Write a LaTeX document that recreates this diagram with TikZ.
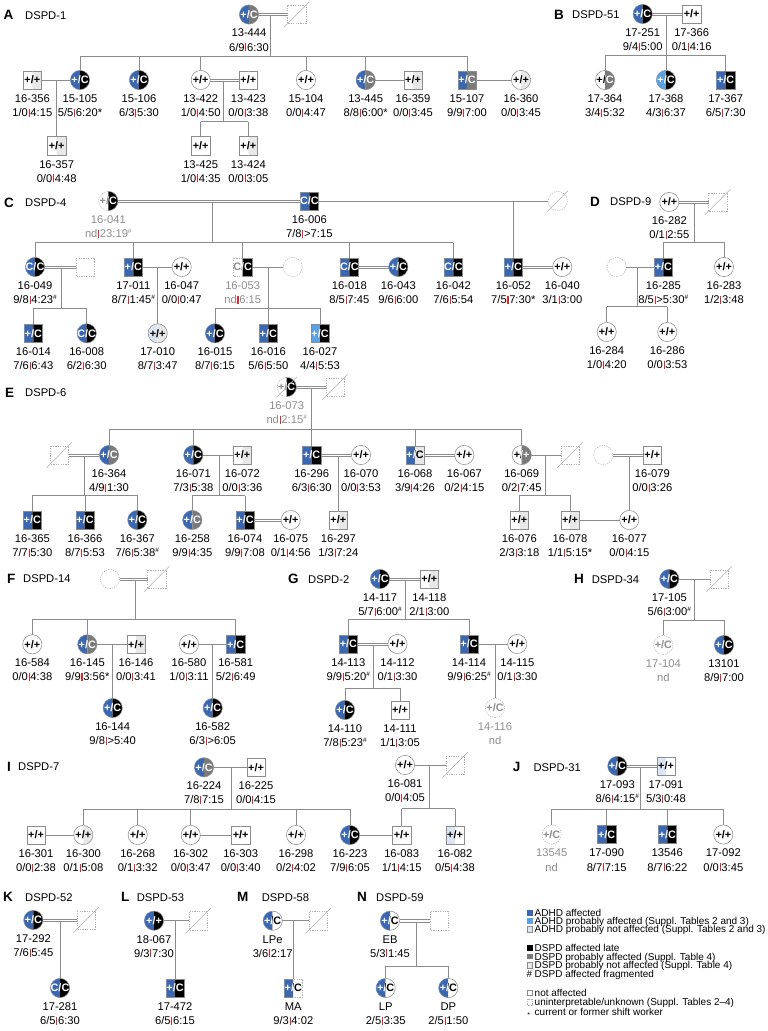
\documentclass[tikz,border=0pt]{standalone}
\usepackage{fontspec}
\setmainfont{Liberation Sans}
\definecolor{cB}{HTML}{3A67B1}
\definecolor{cL}{HTML}{5AA2E2}
\definecolor{cP}{HTML}{DCE5F4}
\definecolor{cK}{HTML}{000000}
\definecolor{cG}{HTML}{7A7A7A}
\definecolor{cE}{HTML}{E8E8E8}
\definecolor{cw}{HTML}{FFFFFF}
\definecolor{cu}{HTML}{FFFFFF}
\definecolor{cv}{HTML}{FFFFFF}
\definecolor{tB}{HTML}{FFFFFF}
\definecolor{tL}{HTML}{FFFFFF}
\definecolor{tP}{HTML}{000000}
\definecolor{tK}{HTML}{FFFFFF}
\definecolor{tG}{HTML}{FFFFFF}
\definecolor{tE}{HTML}{000000}
\definecolor{tw}{HTML}{000000}
\definecolor{tu}{HTML}{8E8E8E}
\definecolor{tv}{HTML}{000000}
\definecolor{linegray}{HTML}{8C8C8C}
\definecolor{dashgray}{HTML}{B0B0B0}
\definecolor{txtgray}{HTML}{8E8E8E}
\definecolor{barred}{HTML}{E3262C}
\tikzset{
 osolid/.style={draw=linegray, line width=0.55pt},
 odash/.style={draw=dashgray, line width=0.55pt, dash pattern=on 1.2pt off 1.2pt},
 oB/.style={osolid}, oL/.style={osolid}, oP/.style={osolid}, oK/.style={osolid},
 oG/.style={osolid}, oE/.style={osolid}, ow/.style={osolid},
 ou/.style={odash}, ov/.style={odash},
 cnode/.style={circle, minimum size=19.2pt, inner sep=0pt, outer sep=0pt},
 snode/.style={rectangle, minimum size=18.4pt, inner sep=0pt, outer sep=0pt},
 gtxt/.style={inner sep=0pt, font=\bfseries\fontsize{10.8}{12}\selectfont},
 lbl/.style={anchor=base, inner sep=0pt, font=\fontsize{11.2}{13}\selectfont},
 rel/.style={draw=linegray, line width=0.7pt},
 decl/.style={draw=dashgray, line width=0.55pt},
 plet/.style={anchor=base west, inner sep=0pt, font=\bfseries\fontsize{13.5}{15}\selectfont},
 pname/.style={anchor=base west, inner sep=0pt, font=\fontsize{11.2}{13}\selectfont},
 leg/.style={anchor=base west, inner sep=0pt, font=\fontsize{10}{11}\selectfont},
}
\newcommand\redbar{\kern0.7pt{\color{barred}\rule{1.1pt}{8pt}}\kern0.7pt}
\newcommand\frag{\raisebox{3.8pt}{\fontsize{6.5}{7}\selectfont\#}}
\newcommand\phalf[6]{%
  \begin{scope}
    \clip (#3,-13) rectangle (#4,13);
    \if#2c
      \path[fill=c#5] (0,0) circle[radius=9.6];
      \path[o#5] (0,0) circle[radius=9.6];
    \else
      \path[fill=c#5] (-9.2,-9.2) rectangle (9.2,9.2);
      \path[o#5] (-9.2,-9.2) rectangle (9.2,9.2);
    \fi
    \node[gtxt, text=t#5] (#1) at (0,0) {#6};
  \end{scope}}
\newcommand\person[7]{%
  \begin{scope}[shift={(#3,#4)}]
    \phalf{#1-gl}{#2}{-13}{0}{#5}{#7}
    \phalf{#1-gr}{#2}{0}{13}{#6}{#7}
  \end{scope}
  \node[#2node] (#1) at (#3,#4) {};}
\newcommand\plabel[4][]{%
  \node[lbl,#1] (#2a) at ([yshift=-22.4pt]#2.center) {#3};
  \node[lbl,#1] (#2b) at ([yshift=-36.6pt]#2.center) {#4};}
\newcommand\deceased[1]{\draw[decl] ([shift={(-3.5pt,-3.5pt)}]#1.south west) -- ([shift={(3.5pt,3.5pt)}]#1.north east);}
\newcommand\drops[2]{\foreach \k in {#2}{\draw[rel] (\k.north) -- (\k.north |- #1);}}
\newcommand\dline[2]{%
  \draw[rel, transform canvas={yshift=1.15pt}] (#1.east) -- (#2.west);
  \draw[rel, transform canvas={yshift=-1.15pt}] (#1.east) -- (#2.west);}
\begin{document}
\begin{tikzpicture}[x=1pt,y=-1pt]
\fill[white] (0,0) rectangle (768,1031);
\useasboundingbox (0,0) rectangle (768,1031);

% ================= A
\node[plet] (LA) at (3.5,19.7) {A};
\node[pname] (NA) at (25,19.2) {DSPD-1};
\person{n13444}{c}{249}{14.5}{B}{G}{+/C}
\person{pA}{s}{296.7}{14.5}{u}{u}{}
\deceased{pA}
\dline{n13444}{pA}
\coordinate (a0) at (270.7,15.6);
\coordinate (a0s) at (270.7,56);
\draw[rel] (a0) -- (a0s);
\plabel{n13444}{13-444}{6/9\redbar6:30}
\person{n16356}{s}{32.3}{80}{w}{E}{+/+}
\person{n15105}{c}{80}{80}{B}{K}{+/C}
\person{n15106}{c}{139}{80}{B}{K}{+/C}
\person{n13422}{c}{200.7}{80}{w}{w}{+/+}
\person{n13423}{s}{248.3}{80}{w}{w}{+/+}
\person{n15104}{c}{306}{80}{w}{w}{+/+}
\person{n13445}{c}{365.7}{80}{B}{G}{+/C}
\person{n16359}{s}{413}{80}{w}{E}{+/+}
\person{n15107}{s}{467}{80}{B}{G}{+/C}
\person{n16360}{c}{521}{80}{w}{E}{+/+}
\draw[rel] (n15105.north |- a0s) -- (n15107.north |- a0s);
\drops{a0s}{n15105,n15106,n13422,n15104,n13445,n15107}
\draw[rel] (n16356.east) -- (n15105.west);
\dline{n13422}{n13423}
\draw[rel] (n13445.east) -- (n16359.west);
\draw[rel] (n15107.east) -- (n16360.west);
\plabel{n16356}{16-356}{1/0\redbar4:15}
\plabel{n15105}{15-105}{5/5\redbar6:20*}
\plabel{n15106}{15-106}{6/3\redbar5:30}
\plabel{n13422}{13-422}{1/0\redbar4:50}
\plabel{n13423}{13-423}{0/0\redbar3:38}
\plabel{n15104}{15-104}{0/0\redbar4:47}
\plabel{n13445}{13-445}{8/8\redbar6:00*}
\plabel{n16359}{16-359}{0/0\redbar3:45}
\plabel{n15107}{15-107}{9/9\redbar7:00}
\plabel{n16360}{16-360}{0/0\redbar3:45}
\coordinate (a1) at (56.7,80);
\person{n16357}{s}{56.7}{145.7}{w}{E}{+/+}
\draw[rel] (a1) -- (n16357.north);
\plabel{n16357}{16-357}{0/0\redbar4:48}
\coordinate (a2) at (223.3,81.1);
\coordinate (a2s) at (223.3,121.7);
\person{n13425}{s}{200.7}{145.7}{w}{w}{+/+}
\person{n13424}{s}{248.3}{145.7}{w}{E}{+/+}
\draw[rel] (a2) -- (a2s);
\draw[rel] (n13425.north |- a2s) -- (n13424.north |- a2s);
\drops{a2s}{n13425,n13424}
\plabel{n13425}{13-425}{1/0\redbar4:35}
\plabel{n13424}{13-424}{0/0\redbar3:05}

% ================= B
\node[plet] (LB) at (554,19.2) {B};
\node[pname] (NB) at (572,18.7) {DSPD-51};
\person{n17251}{c}{642.7}{14}{B}{K}{+/C}
\person{n17366}{s}{691.7}{14}{w}{w}{+/+}
\dline{n17251}{n17366}
\coordinate (b0) at (666,15.1);
\coordinate (b0s) at (666,55.7);
\draw[rel] (b0) -- (b0s);
\plabel{n17251}{17-251}{9/4\redbar5:00}
\plabel{n17366}{17-366}{0/1\redbar4:16}
\person{n17364}{c}{605}{80}{w}{G}{+/C}
\person{n17368}{c}{666}{80}{L}{K}{+/C}
\person{n17367}{s}{725.7}{80}{B}{K}{+/C}
\draw[rel] (n17364.north |- b0s) -- (n17367.north |- b0s);
\drops{b0s}{n17364,n17368,n17367}
\plabel{n17364}{17-364}{3/4\redbar5:32}
\plabel{n17368}{17-368}{4/3\redbar6:37}
\plabel{n17367}{17-367}{6/5\redbar7:30}

% ================= C
\node[plet] (LC) at (4,207.4) {C};
\node[pname] (NC) at (25,206.7) {DSPD-4};
\person{n16041}{c}{108.3}{201}{u}{K}{+/C}
\person{n16006}{s}{309.3}{201}{B}{K}{C/C}
\person{pC}{c}{557.7}{201}{u}{u}{}
\deceased{pC}
\dline{n16041}{n16006}
\draw[rel] (n16006.east) -- (pC.west);
\plabel[text=txtgray]{n16041}{16-041}{nd\redbar23:19\frag}
\plabel{n16006}{16-006}{7/8\redbar>7:15}
\coordinate (c0) at (212.3,202.1);
\coordinate (c0s) at (212.3,242.5);
\draw[rel] (c0) -- (c0s);
\person{n16049}{c}{35}{267}{B}{K}{C/C}
\person{pC2}{s}{85}{267}{u}{u}{}
\person{n17011}{s}{133.3}{267}{B}{K}{+/C}
\person{n16047}{c}{181.7}{267}{w}{w}{+/+}
\person{n16053}{s}{242.7}{267}{u}{K}{C/C}
\person{pC3}{c}{292.7}{267}{u}{u}{}
\person{n16018}{s}{349.3}{267}{B}{K}{C/C}
\person{n16043}{c}{398.3}{267}{B}{K}{+/C}
\person{n16042}{s}{453.3}{267}{B}{K}{C/C}
\person{n16052}{s}{513.3}{267}{B}{K}{+/C}
\person{n16040}{c}{562.3}{267}{w}{w}{+/+}
\draw[rel] (n16049.north |- c0s) -- (n16042.north |- c0s);
\drops{c0s}{n16049,n17011,n16053,n16018,n16042}
\coordinate (c1) at (513.3,201);
\draw[rel] (c1) -- (n16052.north);
\dline{n16049}{pC2}
\draw[rel] (n17011.east) -- (n16047.west);
\draw[rel] (n16053.east) -- (pC3.west);
\dline{n16018}{n16043}
\dline{n16052}{n16040}
\plabel{n16049}{16-049}{9/8\redbar4:23\frag}
\plabel{n17011}{17-011}{8/7\redbar1:45\frag}
\plabel{n16047}{16-047}{0/0\redbar0:47}
\plabel[text=txtgray]{n16053}{16-053}{nd\redbar6:15}
\plabel{n16018}{16-018}{8/5\redbar7:45}
\plabel{n16043}{16-043}{9/6\redbar6:00}
\plabel{n16042}{16-042}{7/6\redbar5:54}
\plabel{n16052}{16-052}{7/5\redbar7:30*}
\plabel{n16040}{16-040}{3/1\redbar3:00}
\coordinate (c2) at (61,268.1);
\coordinate (c2s) at (61,308.3);
\draw[rel] (c2) -- (c2s);
\person{n16014}{s}{33.3}{333.3}{B}{K}{+/C}
\person{n16008}{c}{86.7}{333.3}{B}{K}{C/C}
\draw[rel] (n16014.north |- c2s) -- (n16008.north |- c2s);
\drops{c2s}{n16014,n16008}
\plabel{n16014}{16-014}{7/6\redbar6:43}
\plabel{n16008}{16-008}{6/2\redbar6:30}
\coordinate (c3) at (157.7,267);
\person{n17010}{c}{157.7}{333.3}{P}{E}{+/+}
\draw[rel] (c3) -- (n17010.north);
\plabel{n17010}{17-010}{8/7\redbar3:47}
\coordinate (c4) at (268.3,267);
\coordinate (c4s) at (268.3,308.3);
\draw[rel] (c4) -- (c4s);
\person{n16015}{c}{215}{333.3}{B}{K}{+/C}
\person{n16016}{s}{268.3}{333.3}{B}{K}{+/C}
\person{n16027}{s}{320}{333.3}{L}{K}{+/C}
\draw[rel] (n16015.north |- c4s) -- (n16027.north |- c4s);
\drops{c4s}{n16015,n16016,n16027}
\plabel{n16015}{16-015}{8/7\redbar6:15}
\plabel{n16016}{16-016}{5/6\redbar5:50}
\plabel{n16027}{16-027}{4/4\redbar5:53}

% ================= D
\node[plet] (LD) at (590,206.4) {D};
\node[pname] (ND) at (610,205.7) {DSPD-9};
\person{n16282}{c}{669.3}{202}{w}{w}{+/+}
\person{pD}{s}{717.7}{202}{u}{u}{}
\deceased{pD}
\dline{n16282}{pD}
\plabel{n16282}{16-282}{0/1\redbar2:55}
\coordinate (d0) at (694,203.1);
\coordinate (d0s) at (694,242.3);
\draw[rel] (d0) -- (d0s);
\person{n16285}{s}{663.3}{267}{B}{K}{+/C}
\person{n16283}{c}{724}{267}{w}{w}{+/+}
\person{pD2}{c}{616.7}{267}{u}{u}{}
\draw[rel] (n16285.north |- d0s) -- (n16283.north |- d0s);
\drops{d0s}{n16285,n16283}
\draw[rel] (pD2.east) -- (n16285.west);
\plabel{n16285}{16-285}{8/5\redbar>5:30\frag}
\plabel{n16283}{16-283}{1/2\redbar3:48}
\coordinate (d1) at (637.3,267);
\coordinate (d1s) at (637.3,306.7);
\draw[rel] (d1) -- (d1s);
\person{n16284}{c}{606.7}{332}{w}{w}{+/+}
\person{n16286}{c}{667.3}{332}{w}{w}{+/+}
\draw[rel] (n16284.north |- d1s) -- (n16286.north |- d1s);
\drops{d1s}{n16284,n16286}
\plabel{n16284}{16-284}{1/0\redbar4:20}
\plabel{n16286}{16-286}{0/0\redbar3:53}

% ================= E
\node[plet] (LE) at (5,397.4) {E};
\node[pname] (NE) at (25,396.7) {DSPD-6};
\person{n16073}{c}{286.7}{387}{u}{K}{+/C}
\deceased{n16073}
\person{pE}{s}{335}{387}{u}{u}{}
\deceased{pE}
\dline{n16073}{pE}
\plabel[text=txtgray]{n16073}{16-073}{nd\redbar2:15\frag}
\coordinate (e0) at (311.7,388.1);
\coordinate (e0s) at (311.7,429);
\draw[rel] (e0) -- (e0s);
\person{n16364}{c}{109}{455}{B}{G}{+/C}
\person{pE2}{s}{59.3}{455}{u}{u}{}
\deceased{pE2}
\person{n16071}{c}{193.3}{455}{B}{K}{+/C}
\person{n16072}{s}{242.3}{455}{w}{E}{+/+}
\person{n16296}{s}{311.7}{455}{B}{K}{+/C}
\person{n16070}{c}{361}{455}{w}{w}{+/+}
\person{n16068}{s}{415}{455}{B}{E}{+/C}
\person{n16067}{c}{464.3}{455}{w}{w}{+/+}
\person{n16069}{c}{521.7}{455}{w}{G}{+/+}
\person{pE3}{s}{570}{455}{u}{u}{}
\deceased{pE3}
\person{pE4}{c}{603.3}{455}{u}{u}{}
\person{n16079}{s}{652.3}{455}{w}{w}{+/+}
\draw[rel] (n16364.north |- e0s) -- (n16069.north |- e0s);
\drops{e0s}{n16364,n16071,n16296,n16068,n16069}
\dline{pE2}{n16364}
\draw[rel] (n16071.east) -- (n16072.west);
\dline{n16296}{n16070}
\dline{n16068}{n16067}
\draw[rel] (n16069.east) -- (pE3.west);
\dline{pE4}{n16079}
\plabel{n16364}{16-364}{4/9\redbar1:30}
\plabel{n16071}{16-071}{7/3\redbar5:38}
\plabel{n16072}{16-072}{0/0\redbar3:36}
\plabel{n16296}{16-296}{6/3\redbar6:30}
\plabel{n16070}{16-070}{0/0\redbar3:53}
\plabel{n16068}{16-068}{3/9\redbar4:26}
\plabel{n16067}{16-067}{0/2\redbar4:15}
\plabel{n16069}{16-069}{0/2\redbar7:45}
\plabel{n16079}{16-079}{0/0\redbar3:26}
\coordinate (e1) at (84.3,456.1);
\coordinate (e1s) at (84.3,495.3);
\draw[rel] (e1) -- (e1s);
\person{n16365}{s}{32.3}{520}{B}{K}{+/C}
\person{n16366}{s}{85}{520}{B}{K}{+/C}
\person{n16367}{c}{137.3}{520}{B}{K}{+/C}
\draw[rel] (n16365.north |- e1s) -- (n16367.north |- e1s);
\drops{e1s}{n16365,n16366,n16367}
\plabel{n16365}{16-365}{7/7\redbar5:30}
\plabel{n16366}{16-366}{8/7\redbar5:53}
\plabel{n16367}{16-367}{7/6\redbar5:38\frag}
\coordinate (e2) at (219.3,455);
\coordinate (e2s) at (219.3,495.5);
\draw[rel] (e2) -- (e2s);
\person{n16258}{c}{192.3}{520}{B}{G}{+/C}
\person{n16074}{s}{245}{520}{B}{K}{+/C}
\person{n16075}{c}{290.7}{520}{w}{w}{+/+}
\draw[rel] (n16258.north |- e2s) -- (n16074.north |- e2s);
\drops{e2s}{n16258,n16074}
\dline{n16074}{n16075}
\plabel{n16258}{16-258}{9/9\redbar4:35}
\plabel{n16074}{16-074}{9/9\redbar7:08}
\plabel{n16075}{16-075}{0/1\redbar4:56}
\coordinate (e3) at (338.3,456.1);
\person{n16297}{s}{338.3}{520}{w}{E}{+/+}
\draw[rel] (e3) -- (n16297.north);
\plabel{n16297}{16-297}{1/3\redbar7:24}
\coordinate (e4) at (545.7,455);
\coordinate (e4s) at (545.7,495.3);
\draw[rel] (e4) -- (e4s);
\person{n16076}{s}{519.3}{520}{w}{E}{+/+}
\person{n16078}{s}{570}{520}{w}{E}{+/+}
\draw[rel] (n16076.north |- e4s) -- (n16078.north |- e4s);
\drops{e4s}{n16076,n16078}
\coordinate (e5) at (629.3,456.1);
\person{n16077}{c}{629.3}{520}{w}{w}{+/+}
\draw[rel] (e5) -- (n16077.north);
\draw[rel] (n16078.east) -- (n16077.west);
\plabel{n16076}{16-076}{2/3\redbar3:18}
\plabel{n16078}{16-078}{1/1\redbar5:15*}
\plabel{n16077}{16-077}{0/0\redbar4:15}

% ================= F
\node[plet] (LF) at (7,583.4) {F};
\node[pname] (NF) at (23,582.7) {DSPD-14};
\person{pF1}{c}{110}{579}{u}{u}{}
\person{pF2}{s}{156.7}{579}{u}{u}{}
\deceased{pF2}
\dline{pF1}{pF2}
\coordinate (f0) at (135.7,580.1);
\coordinate (f0s) at (135.7,619.3);
\draw[rel] (f0) -- (f0s);
\person{n16584}{c}{32.3}{644.3}{w}{w}{+/+}
\person{n16145}{c}{87.3}{644.3}{B}{G}{+/C}
\person{n16146}{s}{136}{644.3}{w}{E}{+/+}
\person{n16580}{c}{189}{644.3}{w}{w}{+/+}
\person{n16581}{s}{235.7}{644.3}{B}{K}{+/C}
\draw[rel] (n16584.north |- f0s) -- (n16581.north |- f0s);
\drops{f0s}{n16584,n16145,n16581}
\draw[rel] (n16145.east) -- (n16146.west);
\draw[rel] (n16580.east) -- (n16581.west);
\plabel{n16584}{16-584}{0/0\redbar4:38}
\plabel{n16145}{16-145}{9/9\redbar3:56*}
\plabel{n16146}{16-146}{0/0\redbar3:41}
\plabel{n16580}{16-580}{1/0\redbar3:11}
\plabel{n16581}{16-581}{5/2\redbar6:49}
\coordinate (f1) at (112.7,644.3);
\person{n16144}{c}{112.7}{708}{B}{K}{+/C}
\draw[rel] (f1) -- (n16144.north);
\plabel{n16144}{16-144}{9/8\redbar>5:40}
\coordinate (f2) at (212.7,644.3);
\person{n16582}{c}{212.7}{708}{B}{K}{+/C}
\draw[rel] (f2) -- (n16582.north);
\plabel{n16582}{16-582}{6/3\redbar>6:05}

% ================= G
\node[plet] (LG) at (288,583.7) {G};
\node[pname] (NG) at (308,583) {DSPD-2};
\person{n14117}{c}{380}{579}{B}{K}{+/C}
\person{n14118}{s}{429.3}{579}{w}{E}{+/+}
\dline{n14117}{n14118}
\plabel{n14117}{14-117}{5/7\redbar6:00\frag}
\plabel{n14118}{14-118}{2/1\redbar3:00}
\coordinate (g0) at (405,580.1);
\coordinate (g0s) at (405,619.3);
\draw[rel] (g0) -- (g0s);
\person{n14113}{s}{348.3}{644}{B}{K}{+/C}
\person{n14112}{c}{397.5}{644}{w}{w}{+/+}
\person{n14114}{s}{469}{644}{B}{K}{+/C}
\person{n14115}{c}{517.3}{644}{w}{w}{+/+}
\draw[rel] (n14113.north |- g0s) -- (n14114.north |- g0s);
\drops{g0s}{n14113,n14114}
\dline{n14113}{n14112}
\draw[rel] (n14114.east) -- (n14115.west);
\plabel{n14113}{14-113}{9/9\redbar5:20\frag}
\plabel{n14112}{14-112}{0/1\redbar3:30}
\plabel{n14114}{14-114}{9/9\redbar6:25\frag}
\plabel{n14115}{14-115}{0/1\redbar3:30}
\coordinate (g1) at (373.3,645.1);
\coordinate (g1s) at (373.3,688);
\draw[rel] (g1) -- (g1s);
\person{n14110}{c}{345}{710}{B}{K}{+/C}
\person{n14111}{s}{400}{710}{w}{w}{+/+}
\draw[rel] (n14110.north |- g1s) -- (n14111.north |- g1s);
\drops{g1s}{n14110,n14111}
\plabel{n14110}{14-110}{7/8\redbar5:23\frag}
\plabel{n14111}{14-111}{1/1\redbar3:05}
\coordinate (g2) at (495,644);
\person{n14116}{c}{495}{708}{u}{u}{+/C}
\draw[rel] (g2) -- (n14116.north);
\plabel[text=txtgray]{n14116}{14-116}{nd}

% ================= H
\node[plet] (LH) at (574,583.7) {H};
\node[pname] (NH) at (591.7,583) {DSPD-34};
\person{n17105}{c}{669.3}{579}{B}{K}{+/C}
\person{pH}{s}{719.3}{579}{u}{u}{}
\deceased{pH}
\draw[rel] (n17105.east) -- (pH.west);
\plabel{n17105}{17-105}{5/6\redbar3:00\frag}
\coordinate (h0) at (694.3,579);
\coordinate (h0s) at (694.3,620);
\draw[rel] (h0) -- (h0s);
\person{n17104}{c}{663.3}{645}{u}{u}{+/C}
\person{n13101}{c}{724}{645}{B}{K}{+/C}
\draw[rel] (n17104.north |- h0s) -- (n13101.north |- h0s);
\drops{h0s}{n17104,n13101}
\plabel[text=txtgray]{n17104}{17-104}{nd}
\plabel{n13101}{13101}{8/9\redbar7:00}

% ================= I
\node[plet] (LI) at (7,771.4) {I};
\node[pname] (NI) at (18,770.7) {DSPD-7};
\person{n16224}{c}{204}{767.3}{B}{G}{+/C}
\person{n16225}{s}{256}{767.3}{w}{w}{+/+}
\draw[rel] (n16224.east) -- (n16225.west);
\plabel{n16224}{16-224}{7/8\redbar7:15}
\plabel{n16225}{16-225}{0/0\redbar4:15}
\coordinate (i0) at (231,767.3);
\coordinate (i0s) at (231,809);
\draw[rel] (i0) -- (i0s);
\person{n16301}{s}{36}{835}{w}{w}{+/+}
\person{n16300}{c}{83.3}{835}{w}{E}{+/+}
\person{n16268}{c}{137.7}{835}{w}{w}{+/+}
\person{n16302}{c}{190.7}{835}{w}{w}{+/+}
\person{n16303}{s}{240.7}{835}{w}{w}{+/+}
\person{n16298}{c}{296}{835}{w}{w}{+/+}
\person{n16223}{c}{350}{835}{B}{K}{+/C}
\person{n16083}{s}{401.7}{835}{w}{w}{+/+}
\draw[rel] (n16300.north |- i0s) -- (n16223.north |- i0s);
\drops{i0s}{n16300,n16268,n16302,n16298,n16223}
\draw[rel] (n16301.east) -- (n16300.west);
\draw[rel] (n16302.east) -- (n16303.west);
\draw[rel] (n16223.east) -- (n16083.west);
\plabel{n16301}{16-301}{0/0\redbar2:38}
\plabel{n16300}{16-300}{0/1\redbar5:08}
\plabel{n16268}{16-268}{0/1\redbar3:32}
\plabel{n16302}{16-302}{0/0\redbar3:47}
\plabel{n16303}{16-303}{0/0\redbar3:40}
\plabel{n16298}{16-298}{0/2\redbar4:02}
\plabel{n16223}{16-223}{7/9\redbar6:05}
\plabel{n16083}{16-083}{1/1\redbar4:15}
\person{n16081}{c}{405}{765}{w}{w}{+/+}
\person{pI}{s}{455}{765}{u}{u}{}
\deceased{pI}
\draw[rel] (n16081.east) -- (pI.west);
\plabel{n16081}{16-081}{0/0\redbar4:05}
\coordinate (i1) at (429.3,765);
\coordinate (i1s) at (429.3,808.5);
\draw[rel] (i1) -- (i1s);
\person{n16082}{s}{455}{835}{P}{w}{+/+}
\draw[rel] (n16083.north |- i1s) -- (n16082.north |- i1s);
\drops{i1s}{n16083,n16082}
\plabel{n16082}{16-082}{0/5\redbar4:38}

% ================= J
\node[plet] (LJ) at (512.7,771.7) {J};
\node[pname] (NJ) at (533.3,771) {DSPD-31};
\person{n17093}{c}{617.3}{766}{B}{K}{+/C}
\person{n17091}{s}{666}{766}{P}{w}{+/+}
\dline{n17093}{n17091}
\plabel{n17093}{17-093}{8/6\redbar4:15\frag}
\plabel{n17091}{17-091}{5/3\redbar0:48}
\coordinate (j0) at (640.7,767.1);
\coordinate (j0s) at (640.7,809);
\draw[rel] (j0) -- (j0s);
\person{n13545}{c}{551.7}{834.5}{u}{u}{+/C}
\person{n17090}{s}{606.7}{834.5}{B}{K}{+/C}
\person{n13546}{s}{667.3}{834.5}{B}{K}{+/C}
\person{n17092}{c}{723.3}{834.5}{w}{w}{+/+}
\draw[rel] (n13545.north |- j0s) -- (n17092.north |- j0s);
\drops{j0s}{n13545,n17090,n13546,n17092}
\plabel[text=txtgray]{n13545}{13545}{nd}
\plabel{n17090}{17-090}{8/7\redbar7:15}
\plabel{n13546}{13546}{8/7\redbar6:22}
\plabel{n17092}{17-092}{0/0\redbar3:45}

% ================= K
\node[plet] (LK) at (3,901.7) {K};
\node[pname] (NK) at (25,901) {DSPD-52};
\person{n17292}{c}{33.3}{920}{B}{K}{+/C}
\person{pK}{s}{86}{920}{u}{u}{}
\deceased{pK}
\dline{n17292}{pK}
\plabel{n17292}{17-292}{7/6\redbar5:45}
\coordinate (k0) at (60,921.1);
\person{n17281}{c}{60}{988}{B}{K}{C/C}
\draw[rel] (k0) -- (n17281.north);
\plabel{n17281}{17-281}{6/5\redbar6:30}

% ================= L
\node[plet] (LL) at (121,901.7) {L};
\node[pname] (NL) at (136.7,901) {DSPD-53};
\person{n18067}{c}{154}{920.7}{B}{K}{+/+}
\person{pL}{s}{198.3}{920.7}{u}{u}{}
\deceased{pL}
\draw[rel] (n18067.east) -- (pL.west);
\plabel{n18067}{18-067}{9/3\redbar7:30}
\coordinate (l0) at (175,920.7);
\person{n17472}{s}{175}{988}{B}{K}{+/C}
\draw[rel] (l0) -- (n17472.north);
\plabel{n17472}{17-472}{6/5\redbar6:15}

% ================= M
\node[plet] (LM) at (237,901.7) {M};
\node[pname] (NM) at (261.7,901) {DSPD-58};
\person{nLPe}{c}{272.7}{920.7}{B}{w}{+/C}
\person{pM}{s}{318.3}{920.7}{u}{u}{}
\deceased{pM}
\draw[rel] (nLPe.east) -- (pM.west);
\plabel{nLPe}{LPe}{3/6\redbar2:17}
\coordinate (m0) at (293.3,920.7);
\person{nMA}{s}{293.3}{988}{B}{v}{+/C}
\draw[rel] (m0) -- (nMA.north);
\plabel{nMA}{MA}{9/3\redbar4:02}

% ================= N
\node[plet] (LN) at (357,901.7) {N};
\node[pname] (NN) at (376,901) {DSPD-59};
\person{nEB}{c}{390}{920.7}{B}{w}{+/C}
\person{pN}{s}{439.3}{920.7}{u}{u}{}
\dline{nEB}{pN}
\plabel{nEB}{EB}{5/3\redbar1:45}
\coordinate (n0) at (416.7,921.8);
\coordinate (n0s) at (416.7,966);
\draw[rel] (n0) -- (n0s);
\person{nLP}{c}{385.7}{988}{B}{w}{+/C}
\person{nDP}{c}{448.3}{988}{B}{w}{+/C}
\draw[rel] (nLP.north |- n0s) -- (nDP.north |- n0s);
\drops{n0s}{nLP,nDP}
\plabel{nLP}{LP}{2/5\redbar3:35}
\plabel{nDP}{DP}{2/5\redbar1:50}

% ================= legend
\path[fill=cB] (527,909.9) rectangle (532.6,915.5);
\node[leg] (lg1) at (534.5,916.3) {ADHD affected};
\path[fill=cL] (527,918.2) rectangle (532.6,923.8);
\node[leg] (lg2) at (534.5,924.6) {ADHD probably affected (Suppl. Tables 2 and 3)};
\path[fill=cP, draw=linegray, line width=0.4pt] (527,926.5) rectangle (532.6,932.1);
\node[leg] (lg3) at (534.5,932.9) {ADHD probably not affected (Suppl. Tables 2 and 3)};
\path[fill=black] (527,945.2) rectangle (532.6,950.8);
\node[leg] (lg4) at (534.5,951.6) {DSPD affected late};
\path[fill=cG] (527,953.8) rectangle (532.6,959.4);
\node[leg] (lg5) at (534.5,960.2) {DSPD probably affected (Suppl. Table 4)};
\path[fill=cE, draw=linegray, line width=0.4pt] (527,962.4) rectangle (532.6,968);
\node[leg] (lg6) at (534.5,968.8) {DSPD probably not affected (Suppl. Table 4)};
\node[leg] (lg7s) at (526.3,977.4) {\#};
\node[leg] (lg7) at (534.5,977.4) {DSPD affected fragmented};
\path[fill=white, draw=linegray, line width=0.4pt] (527,989.9) rectangle (532.6,995.5);
\node[leg] (lg8) at (534.5,996.3) {not affected};
\path[draw=dashgray, line width=0.4pt, dash pattern=on 0.8pt off 0.8pt] (527,999.4) rectangle (532.6,1005);
\node[leg] (lg9) at (534.5,1005.8) {uninterpretable/unknown (Suppl. Tables 2--4)};
\node[leg] (lg10s) at (527.2,1017) {\fontsize{7}{7}\selectfont *};
\node[leg] (lg10) at (534.5,1015.3) {current or former shift worker};
\end{tikzpicture}
\end{document}
